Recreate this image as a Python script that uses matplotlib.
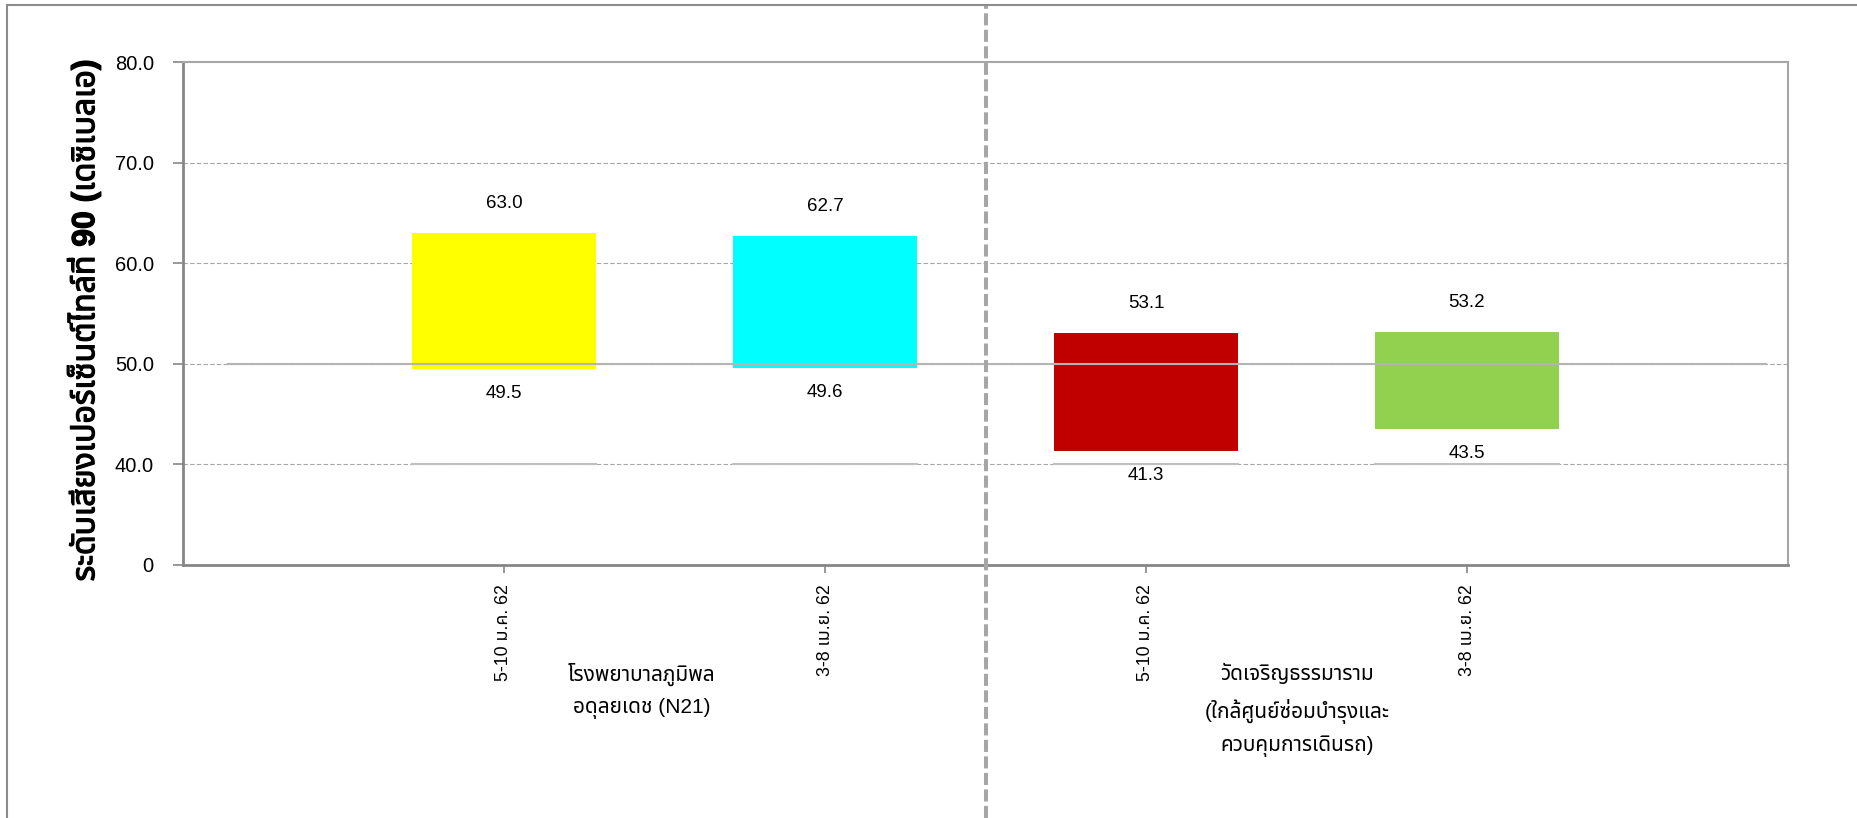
import matplotlib
matplotlib.use("Agg")
import matplotlib.pyplot as plt
import matplotlib.patheffects as pe
from matplotlib import font_manager
from matplotlib.ft2font import FT2Font
from matplotlib.patches import Rectangle

# ข้อมูล
periods = ["5-10 ม.ค. 62", "3-8 เม.ย. 62", "5-10 ม.ค. 62", "3-8 เม.ย. 62"]
lows = [49.5, 49.6, 41.3, 43.5]
highs = [63.0, 62.7, 53.1, 53.2]
colors = ["#FFFF00", "#00FFFF", "#C00000", "#92D050"]
sites = ["โรงพยาบาลภูมิพล\nอดุลยเดช (N21)",
         "วัดเจริญธรรมาราม\n(ใกล้ศูนย์ซ่อมบำรุงและ\nควบคุมการเดินรถ)"]
site_pos = [1.43, 3.47]
yticks = [30, 40, 50, 60, 70, 80]
ytick_labels = ["0", "40.0", "50.0", "60.0", "70.0", "80.0"]


def find_thai_font():
    names = []
    for f in font_manager.fontManager.ttflist:
        try:
            if 0x0E01 in FT2Font(f.fname).get_charmap():
                names.append(f.name)
        except Exception:
            pass
    for pref in ["Tahoma", "Noto Sans Thai", "Noto Sans Thai UI", "Loma", "Garuda", "Norasi"]:
        if pref in names:
            return pref
    return names[0] if names else None


thai = find_thai_font()
fams = ["Liberation Sans"] + ([thai] if thai else []) + ["DejaVu Sans"]
plt.rcParams["font.family"] = fams

x = [1, 2, 3, 4]
bar_w = 0.573

fig = plt.figure(figsize=(18.58, 8.18), dpi=100)
ax = fig.add_axes([183 / 1858, 1 - 565 / 818, (1788 - 183) / 1858, (565 - 62) / 818])

# เส้นกริด
for lv in [40, 50, 60, 70]:
    ax.axhline(lv, color="#a6a6a6", lw=0.8, ls=(0, (4, 2)), zorder=1)

ax.bar(x, [h - l for h, l in zip(highs, lows)], bottom=lows, width=bar_w,
       color=colors, zorder=2)

# เส้นมาตรฐาน
ax.plot([0.14, 4.93], [50, 50], color="#b4b4b4", lw=1.5, zorder=3)
for xi in x:
    ax.plot([xi - bar_w / 2, xi + bar_w / 2], [40, 40], color="#c0c0c0", lw=1.5, zorder=3)

for xi, lo, hi in zip(x, lows, highs):
    ax.annotate(f"{hi:.1f}", (xi, hi), xytext=(0, 21), textcoords="offset points",
                ha="center", va="center", fontsize=13.5)
    ax.annotate(f"{lo:.1f}", (xi, lo), xytext=(0, -17.5), textcoords="offset points",
                ha="center", va="center", fontsize=13.5)

ax.set_xlim(0, 5)
ax.set_ylim(30, 80)
ax.set_yticks(yticks)
ax.set_yticklabels(ytick_labels, fontsize=14.5)
ax.set_xticks(x)
ax.set_xticklabels(periods, rotation=90, fontsize=12.8)
ax.tick_params(axis="y", length=7, width=1.2, color="#868686", pad=14)
ax.tick_params(axis="x", length=6, width=1.2, color="#868686", pad=8)

for s in ["left", "bottom"]:
    ax.spines[s].set_color("#868686")
    ax.spines[s].set_linewidth(2)
for s in ["top", "right"]:
    ax.spines[s].set_color("#a6a6a6")
    ax.spines[s].set_linewidth(1.5)

# เส้นแบ่งกลุ่ม
ax.axvline(2.5, ymin=-0.503, ymax=1.111, color="#a6a6a6", lw=2.9,
           ls=(0, (3, 1.1)), clip_on=False, zorder=4)

for sp, name in zip(site_pos, sites):
    ax.text(sp, -0.195, name, transform=ax.get_xaxis_transform(), ha="center",
            va="top", fontsize=15, linespacing=1.75)

fig.text(84 / 1858, 1 - 320 / 818, "ระดับเสียงเปอร์เซ็นต์ไทล์ที่ 90 (เดซิเบลเอ)",
         rotation=90, ha="center", va="center", fontsize=23, fontweight="bold",
         path_effects=[pe.withStroke(linewidth=0.9, foreground="black")])

fig.add_artist(Rectangle((7 / 1858, -0.1), 1.2, 1.1 - 5 / 818, transform=fig.transFigure,
                         fill=False, edgecolor="#8c8c8c", lw=1.5))

fig.savefig("out.png", dpi=100)
